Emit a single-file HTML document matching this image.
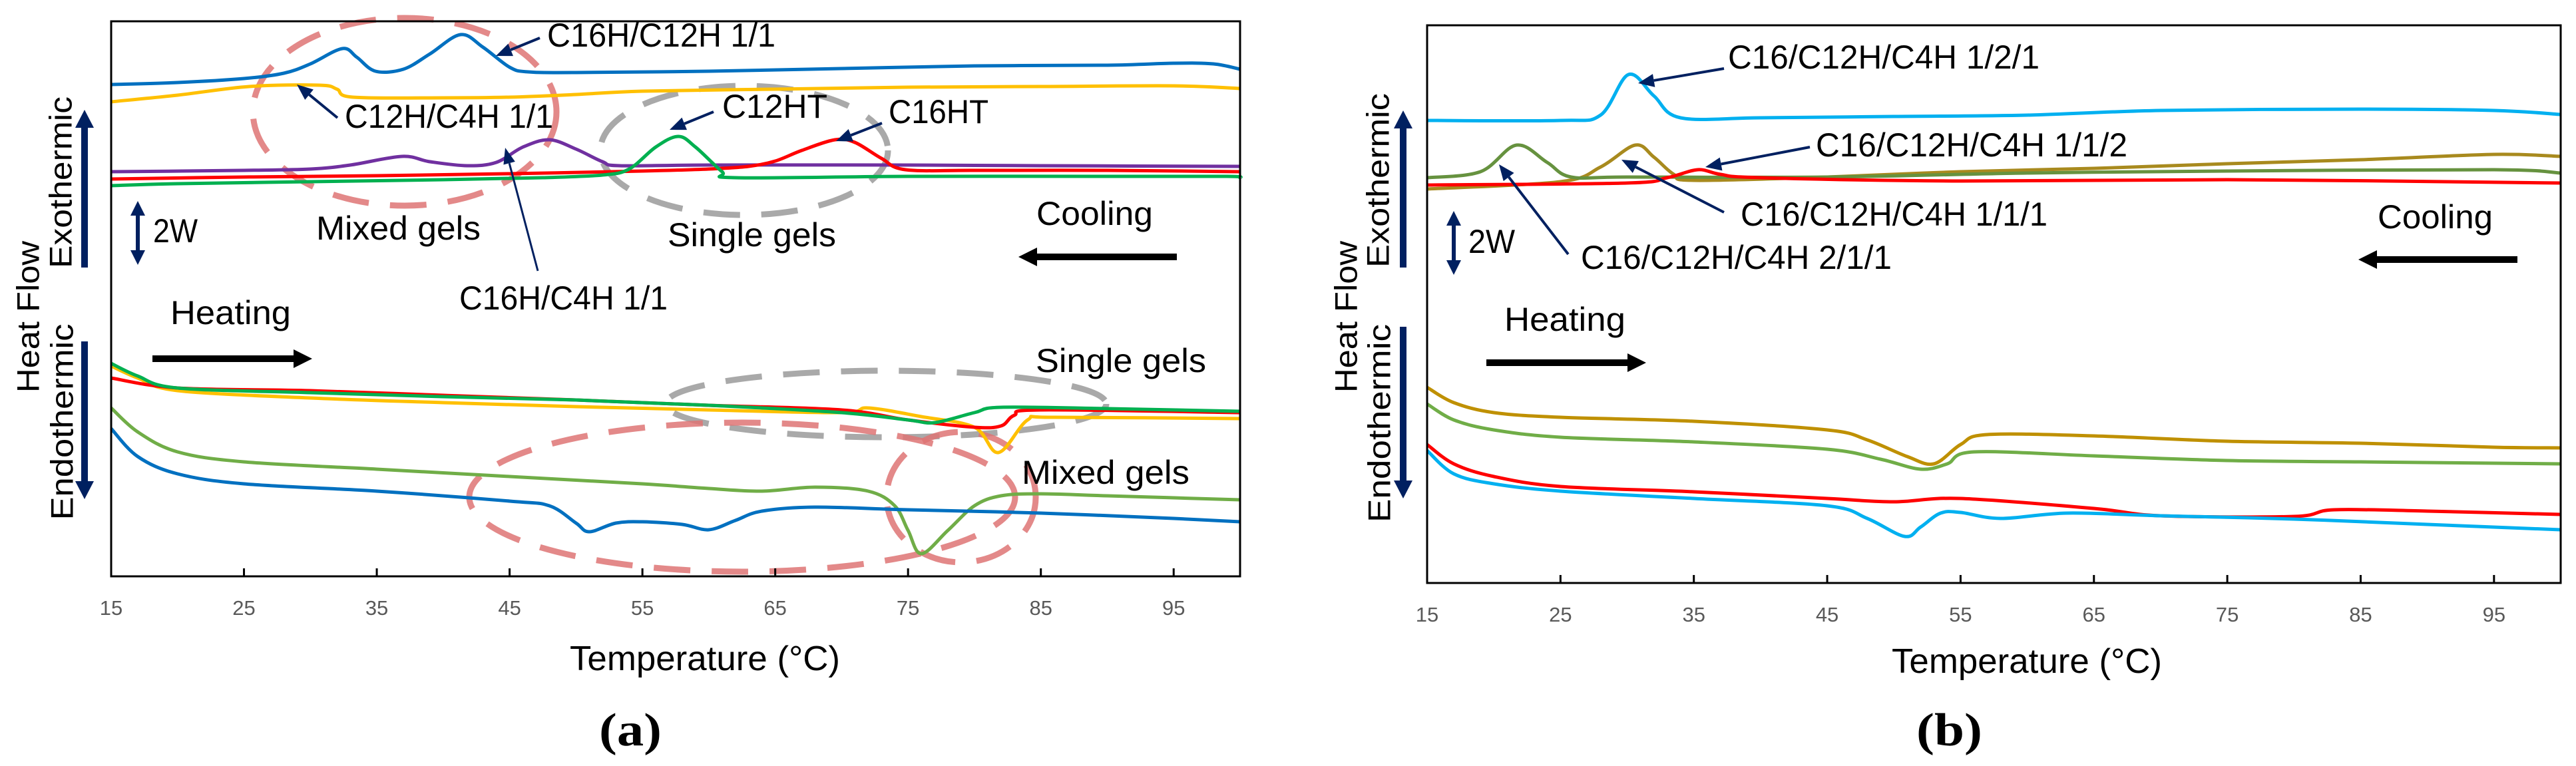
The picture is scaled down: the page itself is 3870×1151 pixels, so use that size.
<!DOCTYPE html>
<html><head><meta charset="utf-8"><style>
html,body{margin:0;padding:0;background:#fff;width:3870px;height:1151px;overflow:hidden}
svg text{font-family:"Liberation Sans Narrow","Liberation Sans",sans-serif}
</style></head><body>
<svg id="fig" xmlns="http://www.w3.org/2000/svg" width="3870" height="1151" viewBox="0 0 3870 1151"></svg>
<script>
// ---------- shared axis data ----------
const xTicks = [15, 25, 35, 45, 55, 65, 75, 85, 95];
const xTickLabels = ["15","25","35","45","55","65","75","85","95"];

// ---------- panel (a) data: temperature (°C) and heat flow (a.u., 2 W = 9.6) ----------
const aBlueCoolT = [15,20,25,28,30,32.4,33.5,34.9,37,39,41.3,43,45,46.4,50,60,70,80,90,95,98,100];
const aBlueCoolV = [73.9,74.2,74.8,75.6,77,79.3,78,75.9,76.2,78.5,81.4,79.5,76.5,75.8,75.7,75.9,76.3,76.7,76.8,77.1,77,76.2];
const aYellowCoolT = [15,20,25.4,30.7,32,33.2,40,45,50,55,65,75,85,95,100];
const aYellowCoolV = [71.3,72.3,73.6,73.8,73.2,72,71.9,72,72.4,72.9,73.2,73.5,73.6,73.7,73.3];
const aPurpleCoolT = [15,25,30,33,36.9,39,41.8,44,46,48,50,52,53.3,60,75,85,100];
const aPurpleCoolV = [60.8,61,61.2,61.8,63.1,62.3,61.7,62.2,64.5,65.6,64.2,62.3,61.7,61.8,61.8,61.7,61.6];
const aRedCoolT = [15,25,35,45,55,60,63,65,67,69.5,71,73,74.8,80,90,100];
const aRedCoolV = [59.7,60,60.2,60.5,60.9,61.2,61.6,62.4,64,65.6,65.2,62.8,61.1,61,61,60.8];
const aGreenCoolT = [15,20,30,40,47.5,52,54,56,57.7,59,61,62,75,90,99,100];
const aGreenCoolV = [58.7,59,59.3,59.6,59.9,60.3,61.2,64.5,66.1,64.5,60.8,59.9,60.1,60.1,60.1,59.9];
const aRedHeatT = [15,20,30,40,50,60,70,75,80,82,83,85,100];
const aRedHeatV = [29.8,28.3,27.9,27.2,26.5,25.7,25,23.5,22.4,22.6,24.2,25,24.6];
const aYellowHeatT = [15,17,20,30,40,50,60,70,72,76,80,81.8,84,86,100];
const aYellowHeatV = [31.6,29.8,27.9,26.8,26.1,25.5,25,24.6,25.3,24,22.4,18.6,23.5,23.9,23.7];
const aGreenHeatT = [15,17,20,30,40,50,60,70,75,77,80,82,90,100];
const aGreenHeatV = [32,30.1,28.3,27.6,27,26.5,25.7,24.6,23.5,23.1,24.6,25.4,25.2,24.8];
const aLimeHeatT = [15,17,20,25,35,45,55,60,64,68,72,74,75,76,78,80,82,85,90,100];
const aLimeHeatV = [25.3,21.7,18.7,17.2,16.1,15,13.9,13.2,12.8,13.4,12.8,10.6,6.9,3.4,6.9,10.6,12.1,12.4,12.1,11.5];
const aBlueHeatT = [15,17,20,25,35,45,48,50,51,53,55,58,60,62,64,68,75,85,95,100];
const aBlueHeatV = [22.2,18,15.4,13.9,12.8,11.3,10.6,8,6.7,8,8.2,7.8,7,8.4,9.8,10.4,10,9.5,8.7,8.2];

// ---------- panel (b) data ----------
const bCyanCoolT = [15,25,28,30.1,32,34,40,50,60,70,85,95,100];
const bCyanCoolV = [69.5,69.5,70.3,76.4,73.2,69.9,69.9,70.1,70.3,71,71.2,71,70.4];
const bGoldCoolT = [15,25,28,30.6,32,33.5,35,45,55,65,75,85,95,100];
const bGoldCoolV = [59.2,60.3,62.5,65.8,64,61.4,60.5,61,61.8,62.3,63,63.6,64.4,64.1];
const bOliveCoolT = [15,19,21.7,24,25.8,30,45,60,75,95,100];
const bOliveCoolV = [60.9,61.8,65.8,63.2,61,61,61,61.6,61.9,62.1,61.6];
const bRedCoolT = [15,30,33,35.3,37,40,55,75,100];
const bRedCoolV = [59.8,60.1,60.9,62.1,61.4,60.9,60.4,60.6,60.1];
const bGoldHeatT = [15,17,20,25,35,45,48,51,53,55,57,65,75,85,95,100];
const bGoldHeatV = [29.4,27.1,25.6,24.9,24.3,23,21.5,19,17.9,20.8,22.3,22.1,21.3,21,20.4,20.3];
const bOliveHeatT = [15,17,20,25,35,45,49,52,54,56,65,75,85,100];
const bOliveHeatV = [26.9,24.5,23,21.9,21.2,20.1,18.6,17.1,17.9,19.7,19.1,18.4,18.2,17.9];
const bRedHeatT = [15,17,20,25,35,45,50,55,65,70,80,83,90,100];
const bRedHeatV = [20.8,17.9,16,14.5,13.7,12.7,12.2,12.7,11.2,10.1,10,11,10.8,10.3];
const bCyanHeatT = [15,17,20,25,35,45,48,50.8,52,53.5,55,58,63,70,80,90,100];
const bCyanHeatV = [19.9,16.4,14.9,13.8,12.7,11.6,9.7,7,8.4,10.5,10.6,9.7,10.5,10.1,9.6,8.8,8];

const NS = "http://www.w3.org/2000/svg";
const svg = document.getElementById('fig');
function mk(tag, attrs, parent) {
  const e = document.createElementNS(NS, tag);
  for (const k in attrs) e.setAttribute(k, attrs[k]);
  (parent || svg).appendChild(e);
  return e;
}
function makeAxes(left, right, top, bottom, xmin, xmax, vmax) {
  return {
    x: t => left + (t - xmin) / (xmax - xmin) * (right - left),
    y: v => bottom - v / vmax * (bottom - top),
    left, right, top, bottom
  };
}
function pathFrom(ax, T, V) {
  const p = T.map((t, i) => [ax.x(t), ax.y(V[i])]);
  let d = "M" + p[0][0].toFixed(1) + "," + p[0][1].toFixed(1);
  for (let i = 0; i < p.length - 1; i++) {
    const p0 = p[i - 1] || p[i], p1 = p[i], p2 = p[i + 1], p3 = p[i + 2] || p2;
    const c1 = [p1[0] + (p2[0] - p0[0]) / 6, p1[1] + (p2[1] - p0[1]) / 6];
    const c2 = [p2[0] - (p3[0] - p1[0]) / 6, p2[1] - (p3[1] - p1[1]) / 6];
    d += " C" + c1[0].toFixed(1) + "," + c1[1].toFixed(1) + " " + c2[0].toFixed(1) + "," + c2[1].toFixed(1) + " " + p2[0].toFixed(1) + "," + p2[1].toFixed(1);
  }
  return d;
}
function drawSeries(g, ax, T, V, color, name) {
  const e = mk('path', {d: pathFrom(ax, T, V), fill: 'none', stroke: color, 'stroke-width': 5, 'stroke-linejoin': 'round'}, g);
  
  
}
function txt(g, s, x, y, w, size, name, extra) {
  const e = mk('text', Object.assign({x: x, y: y, 'font-size': size, fill: '#000', textLength: w, lengthAdjust: 'spacingAndGlyphs'}, extra || {}), g);
  e.textContent = s;
  
  
  return e;
}
function arrow(g, x1, y1, x2, y2, color, w, hw, hl, name) {
  const a = Math.atan2(y2 - y1, x2 - x1);
  const bx = x2 - Math.cos(a) * hl, by = y2 - Math.sin(a) * hl;
  const grp = mk('g', {}, g);
  
  
  mk('line', {x1: x1, y1: y1, x2: bx, y2: by, stroke: color, 'stroke-width': w}, grp);
  const px = -Math.sin(a) * hw / 2, py = Math.cos(a) * hw / 2;
  mk('polygon', {points: x2 + "," + y2 + " " + (bx + px) + "," + (by + py) + " " + (bx - px) + "," + (by - py), fill: color}, grp);
}
function dblArrow(g, x, y1, y2, name) {
  const grp = mk('g', {}, g);
  
  
  mk('line', {x1: x, y1: y1 + 18, x2: x, y2: y2 - 18, stroke: '#002060', 'stroke-width': 6}, grp);
  mk('polygon', {points: x + "," + y1 + " " + (x - 11) + "," + (y1 + 22) + " " + (x + 11) + "," + (y1 + 22), fill: '#002060'}, grp);
  mk('polygon', {points: x + "," + y2 + " " + (x - 11) + "," + (y2 - 22) + " " + (x + 11) + "," + (y2 - 22), fill: '#002060'}, grp);
}
function ellipse(g, cx, cy, rx, ry, color, name) {
  const e = mk('ellipse', {cx: cx, cy: cy, rx: rx, ry: ry, fill: 'none', stroke: color, 'stroke-width': 9, 'stroke-dasharray': '55 32', opacity: 0.85}, g);
  
  
}
function rotText(g, s, cx, cy, len, name) {
  const e = mk('text', {x: 0, y: 0, 'font-size': 47, 'text-anchor': 'middle', 'dominant-baseline': 'central', textLength: len, lengthAdjust: 'spacingAndGlyphs', transform: 'translate(' + cx + ',' + cy + ') rotate(-90)', style: 'font-family:"Liberation Sans",sans-serif'}, g);
  e.textContent = s;
  
  
}
function frame(g, ax, name) {
  const f = mk('rect', {x: ax.left, y: ax.top, width: ax.right - ax.left, height: ax.bottom - ax.top, fill: 'none', stroke: '#000', 'stroke-width': 3}, g);
  
  
  xTicks.forEach((t, i) => {
    if (i > 0) {
      const tk = mk('line', {x1: ax.x(t), y1: ax.bottom, x2: ax.x(t), y2: ax.bottom - 12, stroke: '#000', 'stroke-width': 3}, g);
      
      
    }
    const lb = mk('text', {x: ax.x(t), y: ax.bottom + 58, 'font-size': 31, fill: '#595959', 'text-anchor': 'middle'}, g);
    lb.textContent = xTickLabels[i];
    
    
  });
}

// ================= PANEL A =================
const ga = mk('g', {});


const axA = makeAxes(167, 1863, 32, 866, 15, 100, 83.4);
ellipse(ga, 608, 168, 228, 141, '#DE7474', 'mixed-gels-cooling-ellipse');
ellipse(ga, 1118, 226, 216, 97, '#9A9A9A', 'single-gels-cooling-ellipse');
ellipse(ga, 1331, 607, 331, 50, '#9A9A9A', 'single-gels-heating-ellipse');
ellipse(ga, 1115, 747, 410, 112, '#DE7474', 'mixed-gels-heating-ellipse');
ellipse(ga, 1444, 747, 112, 98, '#DE7474', 'mixed-gels-heating-small-ellipse');
drawSeries(ga, axA, aBlueCoolT, aBlueCoolV, '#0070C0', 'c16h-c12h-cooling-line');
drawSeries(ga, axA, aYellowCoolT, aYellowCoolV, '#FFC000', 'c12h-c4h-cooling-line');
drawSeries(ga, axA, aPurpleCoolT, aPurpleCoolV, '#7030A0', 'c16h-c4h-cooling-line');
drawSeries(ga, axA, aRedCoolT, aRedCoolV, '#FF0000', 'c16ht-cooling-line');
drawSeries(ga, axA, aGreenCoolT, aGreenCoolV, '#00B050', 'c12ht-cooling-line');
drawSeries(ga, axA, aLimeHeatT, aLimeHeatV, '#70AD47', 'c16h-c4h-heating-line');
drawSeries(ga, axA, aBlueHeatT, aBlueHeatV, '#0070C0', 'c16h-c12h-heating-line');
drawSeries(ga, axA, aYellowHeatT, aYellowHeatV, '#FFC000', 'c12h-c4h-heating-line');
drawSeries(ga, axA, aRedHeatT, aRedHeatV, '#FF0000', 'c16ht-heating-line');
drawSeries(ga, axA, aGreenHeatT, aGreenHeatV, '#00B050', 'c12ht-heating-line');
frame(ga, axA, 'plot-frame-a');
txt(ga, 'C16H/C12H 1/1', 822, 70, 343, 50, 'label-c16h-c12h');
arrow(ga, 811, 57, 745, 84, '#002060', 4, 20, 24, 'arrow-c16h-c12h');
txt(ga, 'C12H/C4H 1/1', 518, 192, 313, 50, 'label-c12h-c4h');
arrow(ga, 507, 177, 446, 127, '#002060', 4, 20, 24, 'arrow-c12h-c4h');
txt(ga, 'C12HT', 1085, 177, 158, 50, 'label-c12ht');
arrow(ga, 1072, 168, 1006, 195, '#002060', 4, 20, 24, 'arrow-c12ht');
txt(ga, 'C16HT', 1335, 185, 150, 50, 'label-c16ht');
arrow(ga, 1325, 185, 1256, 212, '#002060', 4, 20, 24, 'arrow-c16ht');
txt(ga, 'C16H/C4H 1/1', 690, 465, 313, 50, 'label-c16h-c4h');
arrow(ga, 808, 407, 759, 222, '#002060', 3, 18, 24, 'arrow-c16h-c4h');
txt(ga, 'Mixed gels', 475, 360, 247, 50, 'label-mixed-gels-cooling');
txt(ga, 'Single gels', 1003, 370, 253, 50, 'label-single-gels-cooling');
txt(ga, 'Cooling', 1557, 338, 175, 50, 'label-cooling');
arrow(ga, 1768, 386, 1530, 386, '#000', 10, 28, 28, 'cooling-arrow');
txt(ga, 'Heating', 256, 487, 181, 50, 'label-heating');
arrow(ga, 229, 539, 469, 539, '#000', 10, 28, 28, 'heating-arrow');
txt(ga, 'Single gels', 1556, 559, 256, 50, 'label-single-gels-heating');
txt(ga, 'Mixed gels', 1535, 727, 252, 50, 'label-mixed-gels-heating');
dblArrow(ga, 207, 302, 398, 'scale-bar-2w-a');
txt(ga, '2W', 230, 364, 67, 50, 'scale-label-2w-a', {style: 'font-family:"Liberation Sans",sans-serif'});
rotText(ga, 'Heat Flow', 42, 476, 228, 'y-axis-title-a');
rotText(ga, 'Exothermic', 91, 274, 258, 'exothermic-label-a');
rotText(ga, 'Endothermic', 93, 634, 295, 'endothermic-label-a');
arrow(ga, 127, 402, 127, 165, '#002060', 10, 28, 27, 'exothermic-arrow-a');
arrow(ga, 127, 513, 127, 750, '#002060', 10, 28, 27, 'endothermic-arrow-a');
txt(ga, 'Temperature (°C)', 856, 1007, 406, 52, 'x-axis-title-a');
txt(ga, '(a)', 900, 1120, 94, 70, 'panel-label-a', {style: 'font-family:"Liberation Serif",serif;font-weight:bold'});

// ================= PANEL B =================
const gb = mk('g', {});


const axB = makeAxes(2144, 3847, 38, 876, 15, 100, 83.8);
drawSeries(gb, axB, bCyanCoolT, bCyanCoolV, '#00B0F0', 'c16-c12h-c4h-121-cooling-line');
drawSeries(gb, axB, bGoldCoolT, bGoldCoolV, '#A88A1E', 'c16-c12h-c4h-111-cooling-line');
drawSeries(gb, axB, bOliveCoolT, bOliveCoolV, '#66923F', 'c16-c12h-c4h-211-cooling-line');
drawSeries(gb, axB, bRedCoolT, bRedCoolV, '#FF0000', 'c16-c12h-c4h-112-cooling-line');
drawSeries(gb, axB, bGoldHeatT, bGoldHeatV, '#BF9000', 'c16-c12h-c4h-111-heating-line');
drawSeries(gb, axB, bOliveHeatT, bOliveHeatV, '#70AD47', 'c16-c12h-c4h-211-heating-line');
drawSeries(gb, axB, bRedHeatT, bRedHeatV, '#FF0000', 'c16-c12h-c4h-112-heating-line');
drawSeries(gb, axB, bCyanHeatT, bCyanHeatV, '#00B0F0', 'c16-c12h-c4h-121-heating-line');
frame(gb, axB, 'plot-frame-b');
txt(gb, 'C16/C12H/C4H 1/2/1', 2596, 103, 468, 50, 'label-121');
arrow(gb, 2590, 103, 2461, 125, '#002060', 4, 20, 24, 'arrow-121');
txt(gb, 'C16/C12H/C4H 1/1/2', 2728, 235, 468, 50, 'label-112');
arrow(gb, 2719, 221, 2562, 251, '#002060', 4, 20, 24, 'arrow-112');
txt(gb, 'C16/C12H/C4H 1/1/1', 2615, 339, 461, 50, 'label-111');
arrow(gb, 2590, 319, 2436, 240, '#002060', 4, 20, 24, 'arrow-111');
txt(gb, 'C16/C12H/C4H 2/1/1', 2375, 404, 467, 50, 'label-211');
arrow(gb, 2356, 382, 2252, 247, '#002060', 4, 20, 24, 'arrow-211');
txt(gb, 'Cooling', 3572, 343, 173, 50, 'label-cooling-b');
arrow(gb, 3782, 390, 3543, 390, '#000', 10, 28, 28, 'cooling-arrow-b');
txt(gb, 'Heating', 2260, 497, 182, 50, 'label-heating-b');
arrow(gb, 2233, 545, 2473, 545, '#000', 10, 28, 28, 'heating-arrow-b');
dblArrow(gb, 2184, 317, 413, 'scale-bar-2w-b');
txt(gb, '2W', 2206, 380, 70, 50, 'scale-label-2w-b', {style: 'font-family:"Liberation Sans",sans-serif'});
rotText(gb, 'Heat Flow', 2022, 476, 228, 'y-axis-title-b');
rotText(gb, 'Exothermic', 2070, 271, 262, 'exothermic-label-b');
rotText(gb, 'Endothermic', 2072, 636, 298, 'endothermic-label-b');
arrow(gb, 2108, 402, 2108, 166, '#002060', 10, 28, 27, 'exothermic-arrow-b');
arrow(gb, 2108, 491, 2108, 749, '#002060', 10, 28, 27, 'endothermic-arrow-b');
txt(gb, 'Temperature (°C)', 2842, 1011, 406, 52, 'x-axis-title-b');
txt(gb, '(b)', 2879, 1120, 99, 70, 'panel-label-b', {style: 'font-family:"Liberation Serif",serif;font-weight:bold'});
</script>
</body></html>
